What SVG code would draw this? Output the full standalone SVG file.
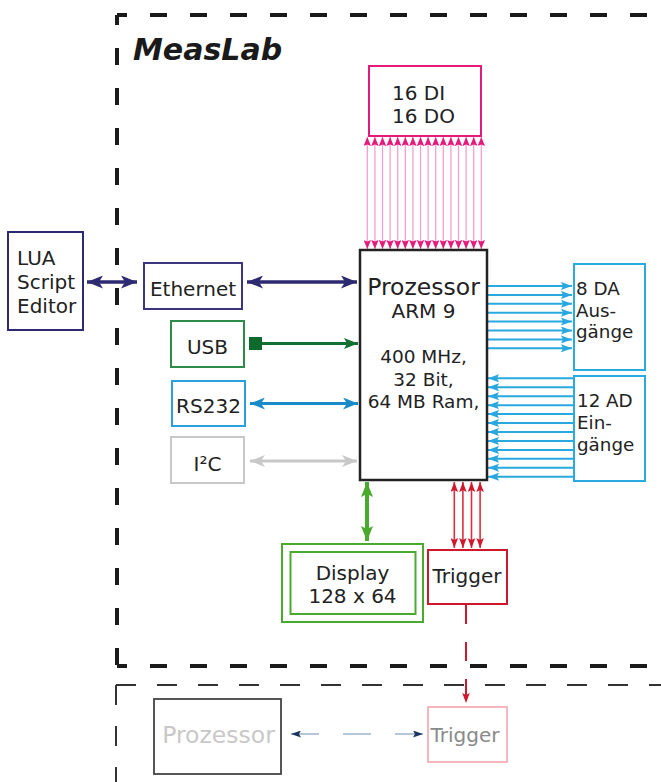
<svg xmlns="http://www.w3.org/2000/svg" width="661" height="782" viewBox="0 0 661 782">
<style>
text{font-family:"DejaVu Sans","Verdana",sans-serif;fill:#222;}
.t20{font-size:20px;}
.t18{font-size:18.5px;}
.box{fill:#fff;stroke-width:2;}
.c{text-anchor:middle;}
</style>
<defs>
<marker id="mNavy" viewBox="0 0 16 13" refX="16" refY="6.5" markerWidth="16" markerHeight="13" markerUnits="userSpaceOnUse" orient="auto-start-reverse"><path d="M0,0 L16,6.5 L0,13 L4,6.5z" fill="#2e2a72"/></marker>
<marker id="mGreenD" viewBox="0 0 14 11" refX="14" refY="5.5" markerWidth="14" markerHeight="11" markerUnits="userSpaceOnUse" orient="auto-start-reverse"><path d="M0,0 L14,5.5 L0,11 L3,5.5z" fill="#137032"/></marker>
<marker id="mBlue" viewBox="0 0 15 12" refX="15" refY="6" markerWidth="15" markerHeight="12" markerUnits="userSpaceOnUse" orient="auto-start-reverse"><path d="M0,0 L15,6 L0,12 L4,6z" fill="#1a8ac8"/></marker>
<marker id="mGray" viewBox="0 0 15 12" refX="15" refY="6" markerWidth="15" markerHeight="12" markerUnits="userSpaceOnUse" orient="auto-start-reverse"><path d="M0,0 L15,6 L0,12 L4,6z" fill="#c8c8c8"/></marker>
<marker id="mPink" viewBox="0 0 9 7.4" refX="9" refY="3.7" markerWidth="9" markerHeight="7.4" markerUnits="userSpaceOnUse" orient="auto-start-reverse"><path d="M0,0 L9,3.7 L0,7.4 L1.5,3.7z" fill="#e6197d"/></marker>
<marker id="mLB" viewBox="0 0 11 8" refX="11" refY="4" markerWidth="11" markerHeight="8" markerUnits="userSpaceOnUse" orient="auto-start-reverse"><path d="M0,0 L11,4 L0,8 L2,4z" fill="#29a8e0"/></marker>
<marker id="mRed" viewBox="0 0 10 7.5" refX="10" refY="3.75" markerWidth="10" markerHeight="7.5" markerUnits="userSpaceOnUse" orient="auto-start-reverse"><path d="M0,0 L10,3.75 L0,7.5 L2,3.75z" fill="#d0182c"/></marker>
<marker id="mGreenL" viewBox="0 0 15 12" refX="15" refY="6" markerWidth="15" markerHeight="12" markerUnits="userSpaceOnUse" orient="auto-start-reverse"><path d="M0,0 L15,6 L0,12 L3,6z" fill="#4aaa2e"/></marker>
<marker id="mNavyS" viewBox="0 0 10 7" refX="10" refY="3.5" markerWidth="10" markerHeight="7" markerUnits="userSpaceOnUse" orient="auto-start-reverse"><path d="M0,0 L10,3.5 L0,7 L2,3.5z" fill="#1a3560"/></marker>
</defs>

<g id="frame-measlab" fill="none" stroke="#1a1a1a" stroke-width="4" stroke-dasharray="17 23" stroke-dashoffset="7">
<path d="M117,15 H700"/>
<path d="M117,15 V666"/>
<path d="M117,666 H700"/>
</g>
<g id="frame-second" fill="none" stroke="#333" stroke-width="2" stroke-dasharray="20 21">
<path d="M116,685 H700"/>
<path d="M116,685 V800"/>
</g>
<text x="133" y="60" style="font-size:30px;font-weight:bold;font-style:italic;fill:#1a1a1a">MeasLab</text>

<g id="connectors">
<line x1="87" y1="282" x2="137" y2="282" stroke="#2e2a72" stroke-width="3.5" marker-start="url(#mNavy)" marker-end="url(#mNavy)"/>
<line x1="247" y1="282" x2="357" y2="282" stroke="#2e2a72" stroke-width="3.5" marker-start="url(#mNavy)" marker-end="url(#mNavy)"/>
<rect x="249" y="337" width="13" height="13" fill="#0b6a2c"/>
<line x1="262" y1="343.5" x2="358" y2="343.5" stroke="#137032" stroke-width="3" marker-end="url(#mGreenD)"/>
<line x1="250" y1="403.5" x2="358" y2="403.5" stroke="#1a8ac8" stroke-width="3" marker-start="url(#mBlue)" marker-end="url(#mBlue)"/>
<line x1="250" y1="461" x2="357" y2="461" stroke="#c8c8c8" stroke-width="3" marker-start="url(#mGray)" marker-end="url(#mGray)"/>
<g id="pink-bus" stroke="#f4a0cc" stroke-width="1.3" marker-start="url(#mPink)" marker-end="url(#mPink)">
<line x1="367.3" y1="137" x2="367.3" y2="249"/>
<line x1="374.9" y1="137" x2="374.9" y2="249"/>
<line x1="382.5" y1="137" x2="382.5" y2="249"/>
<line x1="390.1" y1="137" x2="390.1" y2="249"/>
<line x1="397.7" y1="137" x2="397.7" y2="249"/>
<line x1="405.3" y1="137" x2="405.3" y2="249"/>
<line x1="412.9" y1="137" x2="412.9" y2="249"/>
<line x1="420.5" y1="137" x2="420.5" y2="249"/>
<line x1="428.1" y1="137" x2="428.1" y2="249"/>
<line x1="435.7" y1="137" x2="435.7" y2="249"/>
<line x1="443.3" y1="137" x2="443.3" y2="249"/>
<line x1="450.9" y1="137" x2="450.9" y2="249"/>
<line x1="458.5" y1="137" x2="458.5" y2="249"/>
<line x1="466.1" y1="137" x2="466.1" y2="249"/>
<line x1="473.7" y1="137" x2="473.7" y2="249"/>
<line x1="481.3" y1="137" x2="481.3" y2="249"/>
</g>
<g id="da-bus" stroke="#29a8e0" stroke-width="2" marker-end="url(#mLB)">
<line x1="488" y1="286" x2="572" y2="286"/>
<line x1="488" y1="294.9" x2="572" y2="294.9"/>
<line x1="488" y1="303.8" x2="572" y2="303.8"/>
<line x1="488" y1="312.7" x2="572" y2="312.7"/>
<line x1="488" y1="321.6" x2="572" y2="321.6"/>
<line x1="488" y1="330.5" x2="572" y2="330.5"/>
<line x1="488" y1="339.4" x2="572" y2="339.4"/>
<line x1="488" y1="348.3" x2="572" y2="348.3"/>
</g>
<g id="ad-bus" stroke="#29a8e0" stroke-width="2" marker-end="url(#mLB)">
<line x1="574" y1="378.3" x2="488" y2="378.3"/>
<line x1="574" y1="387.25" x2="488" y2="387.25"/>
<line x1="574" y1="396.2" x2="488" y2="396.2"/>
<line x1="574" y1="405.15" x2="488" y2="405.15"/>
<line x1="574" y1="414.1" x2="488" y2="414.1"/>
<line x1="574" y1="423.05" x2="488" y2="423.05"/>
<line x1="574" y1="432" x2="488" y2="432"/>
<line x1="574" y1="440.95" x2="488" y2="440.95"/>
<line x1="574" y1="449.9" x2="488" y2="449.9"/>
<line x1="574" y1="458.85" x2="488" y2="458.85"/>
<line x1="574" y1="467.8" x2="488" y2="467.8"/>
<line x1="574" y1="476.75" x2="488" y2="476.75"/>
</g>
<line x1="367" y1="482" x2="367" y2="541" stroke="#4aaa2e" stroke-width="4" marker-start="url(#mGreenL)" marker-end="url(#mGreenL)"/>
<g id="trigger-bus" stroke="#d8303f" stroke-width="1.6" marker-start="url(#mRed)" marker-end="url(#mRed)">
<line x1="454.3" y1="482" x2="454.3" y2="548"/>
<line x1="462.9" y1="482" x2="462.9" y2="548"/>
<line x1="471.5" y1="482" x2="471.5" y2="548"/>
<line x1="480.1" y1="482" x2="480.1" y2="548"/>
</g>
<line x1="466" y1="605" x2="466" y2="703" stroke="#d0182c" stroke-width="2" stroke-dasharray="19 18" marker-end="url(#mRed)"/>
<line x1="291" y1="734" x2="423" y2="734" stroke="#9cb4cc" stroke-width="1.3" stroke-dasharray="28 24" marker-start="url(#mNavyS)" marker-end="url(#mNavyS)"/>
</g>

<g id="lua">
<rect class="box" x="8" y="232" width="75" height="98" stroke="#2e2a72"/>
<text class="t20" x="17" y="265">LUA</text>
<text class="t20" x="17" y="289">Script</text>
<text class="t20" x="17" y="313">Editor</text>
</g>
<g id="ethernet">
<rect class="box" x="144" y="263" width="98" height="46" stroke="#3b367f"/>
<text class="t20 c" x="193" y="296">Ethernet</text>
</g>
<g id="usb">
<rect class="box" x="171" y="321" width="73" height="46" stroke="#2e8b4a"/>
<text class="t20 c" x="207.5" y="354">USB</text>
</g>
<g id="rs232">
<rect class="box" x="172" y="381" width="73" height="45" stroke="#2aa0dc"/>
<text class="t20 c" x="208.5" y="413">RS232</text>
</g>
<g id="i2c">
<rect class="box" x="171" y="437" width="73" height="46" stroke="#c8c8c8"/>
<text class="t20 c" x="207.5" y="471">I²C</text>
</g>
<g id="dio">
<rect class="box" x="369" y="66" width="112" height="70" stroke="#e6197d"/>
<text class="t20" x="392" y="100">16 DI</text>
<text class="t20" x="392" y="123">16 DO</text>
</g>
<g id="prozessor">
<rect x="360" y="250" width="127" height="230" fill="#fff" stroke="#222" stroke-width="2.5"/>
<text class="c" x="423.5" y="295" style="font-size:23.5px">Prozessor</text>
<text class="t20 c" x="423.5" y="318">ARM 9</text>
<text class="t18 c" x="423.5" y="363">400 MHz,</text>
<text class="t18 c" x="423.5" y="386">32 Bit,</text>
<text class="t18 c" x="423.5" y="408">64 MB Ram,</text>
</g>
<g id="da">
<rect class="box" x="574" y="264" width="71" height="106" stroke="#29abe2"/>
<text x="576" y="295" style="font-size:18.3px">8 DA</text>
<text x="576" y="317" style="font-size:18.3px">Aus-</text>
<text x="576" y="338" style="font-size:18.3px">gänge</text>
</g>
<g id="ad">
<rect class="box" x="574" y="376" width="71" height="105" stroke="#29abe2"/>
<text x="577" y="407" style="font-size:18.3px">12 AD</text>
<text x="577" y="429" style="font-size:18.3px">Ein-</text>
<text x="577" y="451" style="font-size:18.3px">gänge</text>
</g>
<g id="display">
<rect class="box" x="282" y="544" width="141" height="78" stroke="#4aaa2e"/>
<rect class="box" x="290.5" y="552" width="125" height="62" stroke="#4aaa2e"/>
<text class="t20 c" x="352.5" y="580">Display</text>
<text class="t20 c" x="352.5" y="603">128 x 64</text>
</g>
<g id="trigger">
<rect class="box" x="428" y="550" width="79" height="54" stroke="#d0182c"/>
<text class="t20 c" x="467" y="583">Trigger</text>
</g>
<g id="prozessor2">
<rect x="154" y="699" width="127" height="75" fill="#fff" stroke="#444" stroke-width="1.8"/>
<text class="c" x="218.5" y="743" style="font-size:23.5px;fill:#c8c8c8">Prozessor</text>
</g>
<g id="trigger2">
<rect x="428" y="707" width="79" height="55" fill="#fff" stroke="#f0a0a8" stroke-width="1.5"/>
<text class="t20 c" x="465" y="742" style="fill:#8a8a8a">Trigger</text>
</g>
</svg>
